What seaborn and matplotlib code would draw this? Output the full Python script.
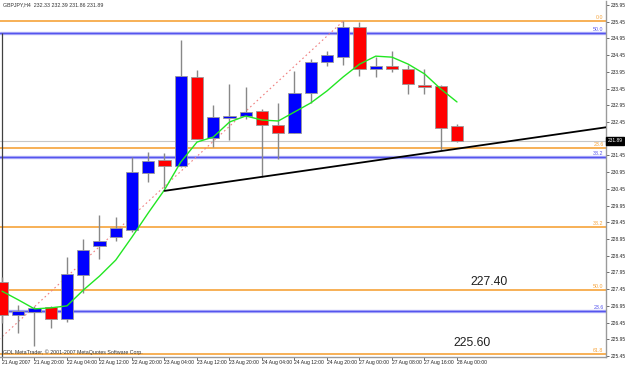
import numpy as np
import pandas as pd
import matplotlib
matplotlib.use("Agg")
import matplotlib.pyplot as plt
import seaborn as sns

# GBPJPY H4 candles, bar 0 = first visible bar
opens = [227.66, 226.68, 226.77, 226.92, 226.56, 227.87, 228.74, 229.01, 229.22, 230.92,
         231.31, 231.13, 233.80, 231.97, 232.57, 232.63, 232.78, 232.36, 232.12, 233.32,
         234.24, 234.39, 235.30, 234.05, 234.12, 234.04, 233.56, 233.53, 232.33]
highs = [227.80, 226.98, 226.95, 226.95, 228.41, 228.95, 229.67, 229.61, 231.40, 231.55,
         231.52, 234.90, 234.01, 232.96, 233.59, 233.50, 232.84, 233.02, 233.98, 234.33,
         234.57, 235.47, 235.44, 234.39, 234.57, 234.15, 234.04, 233.56, 232.39]
lows = [226.45, 226.14, 225.75, 226.29, 226.47, 227.33, 228.35, 228.89, 229.16, 230.65,
        230.48, 231.10, 231.94, 231.70, 231.91, 232.54, 230.80, 231.34, 232.12, 233.02,
        234.12, 234.15, 233.83, 233.80, 233.95, 233.29, 233.30, 231.61, 231.86]
closes = [226.68, 226.80, 226.89, 226.56, 227.90, 228.62, 228.89, 229.28, 230.95, 231.28,
          231.13, 233.83, 231.94, 232.60, 232.63, 232.75, 232.36, 232.12, 233.32, 234.24,
          234.45, 235.29, 234.04, 234.12, 234.05, 233.59, 233.51, 232.27, 231.89]

# green moving average as drawn
ma = [227.39, 227.13, 226.86, 226.89, 226.95, 227.42, 227.84, 228.32, 229.01, 229.73,
      230.42, 231.25, 231.85, 232.00, 232.45, 232.63, 232.51, 232.48, 232.75, 233.02,
      233.38, 233.80, 234.18, 234.42, 234.39, 234.18, 233.89, 233.44, 233.05]

# time labels (every second bar)
time_labels = ["21 Aug 2007", "21 Aug 20:00", "22 Aug 04:00", "22 Aug 12:00", "22 Aug 20:00",
               "23 Aug 04:00", "23 Aug 12:00", "23 Aug 20:00", "24 Aug 04:00", "24 Aug 12:00",
               "24 Aug 20:00", "27 Aug 00:00", "27 Aug 08:00", "27 Aug 16:00", "28 Aug 00:00"]

# fibonacci objects
fib_levels = [0.0, 23.6, 38.2, 50.0, 61.8]
fib_orange_top, fib_orange_bottom = 235.47, 219.37
fib_orange_bars = (-14.8, 21)          # diagonal anchors (bar index)
blue_levels = [23.6, 38.2, 50.0]
fib_blue_bottom, fib_blue_top = 219.37, 250.87

# trendline anchors (bar, price)
trend_bars = [10, 28]
trend_prices = [230.39, 231.65]

last_price = 231.89
notes = [("227.40", 28.8, 227.66), ("225.60", 27.8, 225.84)]

ORANGE = "#F6A33A"
BLUE = "#5555EE"

df = pd.DataFrame({"bar": np.arange(len(opens)), "open": opens, "high": highs,
                   "low": lows, "close": closes, "ma": ma})
df["bull"] = df["close"] >= df["open"]

sns.set_style("white")
plt.rcParams["font.family"] = ["Liberation Sans", "DejaVu Sans"]

fig = plt.figure(figsize=(6.25, 3.67), dpi=100)
ax = fig.add_axes([0, 10 / 367, 606 / 625, 356 / 367])

xmin, xmax = -0.123, 37.17
ax.set_xlim(xmin, xmax)
ax.set_ylim(225.42, 236.07)

# fib levels (orange)
rng = fib_orange_top - fib_orange_bottom
for lv in fib_levels:
    p = fib_orange_top - rng * lv / 100
    ax.axhline(p, color=ORANGE, lw=1.2, zorder=1)
    ax.text(xmax - 0.15, p + 0.03, f"{lv:.1f}", color=ORANGE, fontsize=3.8,
            ha="right", va="bottom", zorder=6)
# fib levels (blue)
brng = fib_blue_top - fib_blue_bottom
for lv in blue_levels:
    p = fib_blue_bottom + brng * lv / 100
    ax.axhline(p, color="#B4B4F8", lw=2.4, zorder=1)
    ax.axhline(p, color=BLUE, lw=1.0, zorder=1)
    ax.text(xmax - 0.15, p + 0.03, f"{lv:.1f}", color=BLUE, fontsize=3.8,
            ha="right", va="bottom", zorder=6)

# red dotted fib diagonal
ax.plot(fib_orange_bars, [fib_orange_bottom, fib_orange_top], color="#F08080",
        lw=0.8, ls=(0, (1.5, 2.5)), zorder=2)

# vertical object at first bar
ax.vlines(0, 225.42, fib_blue_bottom + brng * 0.5, color="#404040", lw=0.9, zorder=2)

# bid line
ax.axhline(last_price, color="#C8C8C8", lw=0.8, zorder=1)

# candles
ax.vlines(df["bar"], df["low"], df["high"], color="#888888", lw=1.0, zorder=3)
for bull, color in [(True, "#0000FF"), (False, "#FF0000")]:
    d = df[df["bull"] == bull]
    h = (d["close"] - d["open"]).where((d["close"] - d["open"]).abs() > 0.05,
                                        np.sign(d["close"] - d["open"] + 1e-9) * 0.05)
    ax.bar(d["bar"], h, bottom=d["open"], width=0.74, color=color,
           edgecolor="#9a9a9a", linewidth=0.6, zorder=4)

# moving average
sns.lineplot(data=df, x="bar", y="ma", color="#22E622", lw=1.0, ax=ax, zorder=5)

# trendline (ray to the right)
slope = (trend_prices[1] - trend_prices[0]) / (trend_bars[1] - trend_bars[0])
ax.plot([trend_bars[0], xmax], [trend_prices[0], trend_prices[0] + slope * (xmax - trend_bars[0])],
        color="black", lw=1.3, zorder=5)

for txt, bx, py in notes:
    ax.text(bx, py, txt, fontsize=8.7, ha="left", va="center", color="#202020", zorder=6)

ax.text(0.005, 0.995, "GBPJPY,H4  232.33 232.39 231.86 231.89", transform=ax.transAxes,
        fontsize=3.8, ha="left", va="top", color="#333333")
ax.text(0.005, 0.006, "GDL MetaTrader, \u00a9 2001-2007 MetaQuotes Software Corp.",
        transform=ax.transAxes, fontsize=3.8, ha="left", va="bottom", color="#333333")

# axes styling
ax.set_xlabel("")
ax.set_ylabel("")
yt = np.arange(225.45, 236.0, 0.5)
ax.set_yticks(yt)
# the 231.95 label sits under the current-price box
ax.set_yticklabels(["" if abs(v - 231.95) < 0.01 else f"{v:.2f}" for v in yt])
ax.yaxis.tick_right()
ax.set_xticks(np.arange(0, 2 * len(time_labels), 2))
ax.set_xticklabels(time_labels)
for lab in ax.get_xticklabels():
    lab.set_ha("left")
ax.tick_params(axis="both", length=2, width=0.6, color="#555555",
               labelcolor="#222222", pad=1.2, direction="out")
ax.tick_params(axis="x", bottom=True, pad=0.5, labelsize=3.6)
ax.tick_params(axis="y", right=True, left=False, labelsize=3.5)

ax.text(1.003, last_price, f"{last_price:.2f}", transform=ax.get_yaxis_transform(),
        fontsize=3.5, color="white", ha="left", va="center", zorder=10,
        bbox=dict(boxstyle="square,pad=0.3", fc="black", ec="black"))

for s in ["left", "top"]:
    ax.spines[s].set_visible(False)
for s in ["right", "bottom"]:
    ax.spines[s].set_color("#9a9a9a")
    ax.spines[s].set_linewidth(1.0)

fig.savefig("out.png", dpi=100)
